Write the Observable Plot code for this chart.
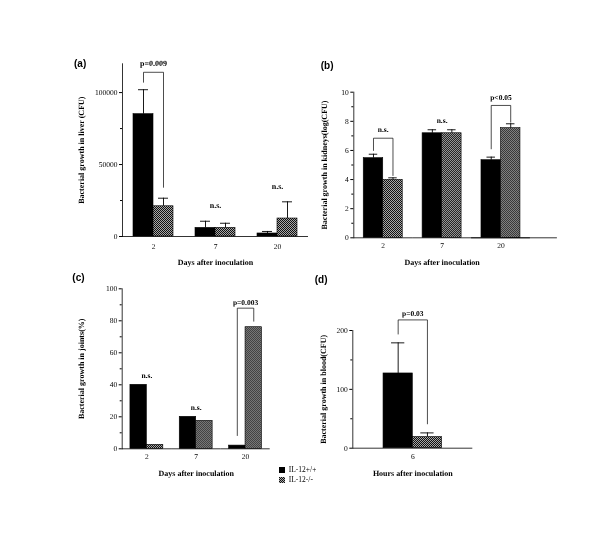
<!DOCTYPE html>
<html><head><meta charset="utf-8">
<script src="https://cdn.jsdelivr.net/npm/d3@7"></script>
<script src="https://cdn.jsdelivr.net/npm/@observablehq/plot@0.6"></script>
<style>
body{margin:0;background:#fff;}
#fig{position:relative;width:600px;height:550px;background:#fff;font-family:"Liberation Serif",serif;}
.panel{position:absolute;will-change:transform;}
.plab{position:absolute;font-family:"Liberation Sans",Arial,sans-serif;font-weight:bold;font-size:10px;line-height:10px;}
#legend{position:absolute;left:279px;top:465px;will-change:transform;}
svg [aria-label$="axis label"] text{font-weight:bold;font-size:8px;}
svg text{text-rendering:geometricPrecision;}
</style></head><body>
<svg width="0" height="0" style="position:absolute"><defs>
<pattern id="hatch" width="2" height="2" patternUnits="userSpaceOnUse">
<rect width="2" height="2" fill="#a8a8a8"/><rect width="1" height="1" fill="#111"/><rect x="1" y="1" width="1" height="1" fill="#111"/>
</pattern></defs></svg>
<div id="fig"></div>
<script>
const groups = ["IL-12+/+", "IL-12-/-"];
const days = [2, 7, 20];
const hours = [6];

// (a) liver, CFU
const liverWT = [85000, 6000, 2100];
const liverWTsd = [17000, 4600, 1400];
const liverKO = [21000, 6000, 12500];
const liverKOsd = [5600, 3200, 11600];
const liverTicks = [0, 50000, 100000];
const liverMinor = [25000, 75000];
const liverNotes = [{day: 2, label: "p=0.009", y: 120000}, {day: 7, label: "n.s.", y: 21500}, {day: 20, label: "n.s.", y: 34700}];
const liverBrackets = [{day: 2, left: 107200, top: 114100, right: 34200}];

// (b) kidneys, log(CFU)
const kidWT = [5.47, 7.18, 5.33];
const kidWTsd = [0.27, 0.24, 0.21];
const kidKO = [3.98, 7.18, 7.53];
const kidKOsd = [0.14, 0.24, 0.30];
const kidTicks = [0, 2, 4, 6, 8, 10];
const kidMinor = [1, 3, 5, 7, 9];
const kidNotes = [{day: 2, label: "n.s.", y: 7.42}, {day: 7, label: "n.s.", y: 8.06}, {day: 20, label: "p<0.05", y: 9.62}];
const kidBrackets = [{day: 2, left: 6.0, top: 6.84, right: 4.28}, {day: 20, left: 6.11, top: 9.09, right: 7.94}];

// (c) joints, %
const jointWT = [40, 20, 2];
const jointKO = [2.5, 17.5, 76];
const jointTicks = [0, 20, 40, 60, 80, 100];
const jointMinor = [10, 30, 50, 70, 90];
const jointNotes = [{day: 2, label: "n.s.", y: 45.8}, {day: 7, label: "n.s.", y: 25.6}, {day: 20, label: "p=0.003", y: 91.6}];
const jointBrackets = [{day: 20, left: 8.3, top: 87.9, right: 79.75}];

// (d) blood, CFU
const bloodWT = [127];
const bloodWTsd = [52];
const bloodKO = [19];
const bloodKOsd = [7];
const bloodTicks = [0, 100, 200];
const bloodMinor = [50, 150];
const bloodNotes = [{day: 6, label: "p=0.03", y: 229}];
const bloodBrackets = [{day: 6, left: 194, top: 218, right: 41.4}];

const fillRange = ["#000", "url(#hatch)"];

function table(xs, wt, wtsd, ko, kosd) {
  const rows = [];
  xs.forEach((d, i) => {
    rows.push({day: d, group: groups[0], value: wt[i], sd: wtsd ? wtsd[i] : null});
    rows.push({day: d, group: groups[1], value: ko[i], sd: kosd ? kosd[i] : null});
  });
  return rows;
}
function bracketPoints(br) {
  return br.flatMap((b, i) => [
    {id: i, day: b.day, group: groups[0], y: b.left},
    {id: i, day: b.day, group: groups[0], y: b.top},
    {id: i, day: b.day, group: groups[1], y: b.top},
    {id: i, day: b.day, group: groups[1], y: b.right}
  ]);
}

function panel(c) {
  const rows = table(c.xs, c.wt, c.wtsd, c.ko, c.kosd);
  const withSd = rows.filter(d => d.sd != null);
  const marks = [
    Plot.barY(rows, {fx: "day", x: "group", y: "value", fill: "group", stroke: "#000", strokeWidth: 0.6}),
    Plot.ruleX(withSd, {fx: "day", x: "group", y1: "value", y2: d => d.value + d.sd, strokeWidth: 0.9}),
    Plot.tickY(withSd, {fx: "day", x: "group", y: d => d.value + d.sd, insetLeft: c.cap, insetRight: c.cap, strokeWidth: 0.9}),
    Plot.ruleY([0], {strokeWidth: 0.8}),
    Plot.frame({anchor: "left", facetAnchor: "left", strokeWidth: 0.8}),
    Plot.axisY({ticks: c.ticks, tickSize: 3, tickPadding: 2, tickFormat: "d", label: c.ylabel, labelAnchor: "center", labelArrow: "none", labelOffset: c.yLabelOffset}),
    Plot.axisY({ticks: c.minor, tickSize: 2, tickFormat: () => "", label: null}),
    Plot.line(bracketPoints(c.brackets), {fx: "day", x: "group", y: "y", z: "id", strokeWidth: 0.7}),
    Plot.text(c.notes, {fx: "day", y: "y", text: "label", fill: "#000", fontWeight: "bold", fontSize: c.noteSize})
  ];
  if (c.extend) marks.push(Plot.ruleY([0], {facetAnchor: "right", insetRight: -c.extend, strokeWidth: 0.8}));
  const chart = Plot.plot({
    width: c.w, height: c.h,
    marginLeft: c.ml, marginRight: c.mr, marginTop: c.mt, marginBottom: c.mb,
    style: {fontFamily: "'Liberation Serif', serif", fontSize: "7.5px", background: "transparent", color: "#000"},
    fx: {domain: c.xs, padding: 0, round: false, axis: "bottom", tickSize: 0, tickPadding: c.tickPad, label: c.xlabel, labelAnchor: "center", labelArrow: "none", labelOffset: c.xLabelOffset},
    x: {domain: groups, paddingInner: 0, paddingOuter: c.pad, round: false, axis: null},
    y: {domain: c.ydom},
    color: {domain: groups, range: fillRange},
    marks
  });
  const div = document.createElement("div");
  div.className = "panel";
  div.style.left = c.left + "px";
  div.style.top = c.top + "px";
  div.appendChild(chart);
  document.getElementById("fig").appendChild(div);
  const lab = document.createElement("div");
  lab.className = "plab";
  lab.textContent = c.tag;
  lab.style.left = c.tagX + "px";
  lab.style.top = c.tagY + "px";
  document.getElementById("fig").appendChild(lab);
}

panel({tag: "(a)", tagX: 74, tagY: 59, left: 60, top: 50, w: 255, h: 225, ml: 62, mr: 7, mt: 13.3, mb: 39,
  xs: days, wt: liverWT, wtsd: liverWTsd, ko: liverKO, kosd: liverKOsd, ydom: [0, 120000],
  ticks: liverTicks, minor: liverMinor, notes: liverNotes, brackets: liverBrackets,
  ylabel: "Bacterial growth in liver (CFU)", xlabel: "Days after inoculation",
  yLabelOffset: 44, xLabelOffset: 28.7, tickPad: 7, pad: 0.55, cap: 5, noteSize: 8});

panel({tag: "(b)", tagX: 320.7, tagY: 61, left: 310, top: 50, w: 255, h: 225, ml: 43.3, mr: 35.1, mt: 41.7, mb: 37.7,
  xs: days, wt: kidWT, wtsd: kidWTsd, ko: kidKO, kosd: kidKOsd, ydom: [0, 10],
  ticks: kidTicks, minor: kidMinor, notes: kidNotes, brackets: kidBrackets,
  ylabel: "Bacterial growth in kidneys(log(CFU)", xlabel: "Days after inoculation",
  yLabelOffset: 32, xLabelOffset: 27.4, tickPad: 5, pad: 0.51, cap: 5.5, noteSize: 7.5, extend: 27});

panel({tag: "(c)", tagX: 72.3, tagY: 273.3, left: 60, top: 275, w: 255, h: 225, ml: 61.7, mr: 45.3, mt: 13.3, mb: 51.7,
  xs: days, wt: jointWT, wtsd: null, ko: jointKO, kosd: null, ydom: [0, 100],
  ticks: jointTicks, minor: jointMinor, notes: jointNotes, brackets: jointBrackets,
  ylabel: "Bacterial growth in joints(%)", xlabel: "Days after inoculation",
  yLabelOffset: 44, xLabelOffset: 27.4, tickPad: 5, pad: 0.5, cap: 4, noteSize: 7.5});

panel({tag: "(d)", tagX: 314.7, tagY: 275, left: 300, top: 275, w: 200, h: 225, ml: 52.3, mr: 27.7, mt: 55, mb: 52.3,
  xs: hours, wt: bloodWT, wtsd: bloodWTsd, ko: bloodKO, kosd: bloodKOsd, ydom: [0, 200],
  ticks: bloodTicks, minor: bloodMinor, notes: bloodNotes, brackets: bloodBrackets,
  ylabel: "Bacterial growth in blood(CFU)", xlabel: "Hours after inoculation",
  yLabelOffset: 32, xLabelOffset: 28, tickPad: 5, pad: 1.05, cap: 8, noteSize: 7.5});

const legend = Plot.legend({
  color: {domain: groups, range: fillRange},
  swatchSize: 6, columns: 1,
  style: {fontFamily: "'Liberation Serif', serif", fontSize: "7.5px", color: "#000"}
});
const lg = document.createElement("div");
lg.id = "legend";
lg.appendChild(legend);
document.getElementById("fig").appendChild(lg);
</script>
</body></html>
